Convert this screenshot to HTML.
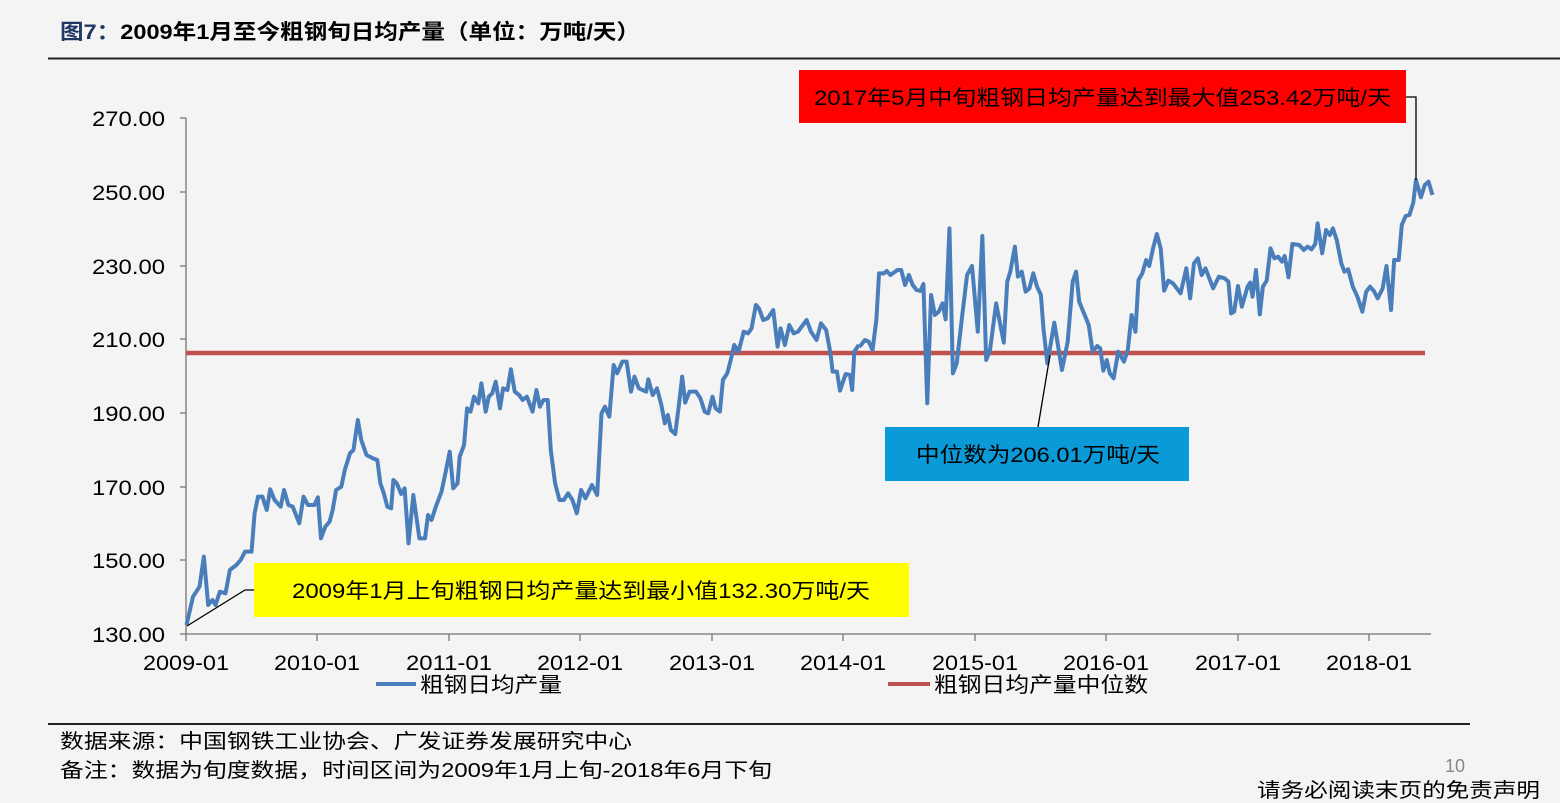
<!DOCTYPE html>
<html><head><meta charset="utf-8"><style>
body{margin:0;background:#f4f4f4;}
svg{display:block;font-family:"Liberation Sans","Noto Sans CJK SC",sans-serif;}
</style></head><body>
<svg width="1560" height="803" viewBox="0 0 1560 803" xmlns="http://www.w3.org/2000/svg">
<rect width="1560" height="803" fill="#f4f4f4"/>
<text x="60" y="39" font-size="21" font-weight="bold" textLength="580" lengthAdjust="spacingAndGlyphs"><tspan fill="#1f3864">图7：</tspan><tspan fill="#000">2009年1月至今粗钢旬日均产量（单位：万吨/天）</tspan></text>
<line x1="48" y1="58.5" x2="1560" y2="58.5" stroke="#222" stroke-width="2"/>
<g stroke="#868686" stroke-width="1.5">
<line x1="186" y1="118" x2="186" y2="634"/>
<line x1="186" y1="634" x2="1431" y2="634"/>
<line x1="180" y1="118" x2="186" y2="118"/><line x1="180" y1="192" x2="186" y2="192"/><line x1="180" y1="266" x2="186" y2="266"/><line x1="180" y1="339" x2="186" y2="339"/><line x1="180" y1="413" x2="186" y2="413"/><line x1="180" y1="487" x2="186" y2="487"/><line x1="180" y1="560" x2="186" y2="560"/><line x1="180" y1="634" x2="186" y2="634"/>
<line x1="186" y1="634" x2="186" y2="641"/><line x1="317" y1="634" x2="317" y2="641"/><line x1="449" y1="634" x2="449" y2="641"/><line x1="580" y1="634" x2="580" y2="641"/><line x1="712" y1="634" x2="712" y2="641"/><line x1="843" y1="634" x2="843" y2="641"/><line x1="975" y1="634" x2="975" y2="641"/><line x1="1106" y1="634" x2="1106" y2="641"/><line x1="1238" y1="634" x2="1238" y2="641"/><line x1="1369" y1="634" x2="1369" y2="641"/>
</g>
<g font-size="21" fill="#000">
<text x="92" y="126" textLength="73" lengthAdjust="spacingAndGlyphs">270.00</text><text x="92" y="200" textLength="73" lengthAdjust="spacingAndGlyphs">250.00</text><text x="92" y="274" textLength="73" lengthAdjust="spacingAndGlyphs">230.00</text><text x="92" y="347" textLength="73" lengthAdjust="spacingAndGlyphs">210.00</text><text x="92" y="421" textLength="73" lengthAdjust="spacingAndGlyphs">190.00</text><text x="92" y="495" textLength="73" lengthAdjust="spacingAndGlyphs">170.00</text><text x="92" y="568" textLength="73" lengthAdjust="spacingAndGlyphs">150.00</text><text x="92" y="642" textLength="73" lengthAdjust="spacingAndGlyphs">130.00</text>
</g>
<g font-size="21" fill="#000">
<text x="143" y="670" textLength="86" lengthAdjust="spacingAndGlyphs">2009-01</text><text x="274" y="670" textLength="86" lengthAdjust="spacingAndGlyphs">2010-01</text><text x="406" y="670" textLength="86" lengthAdjust="spacingAndGlyphs">2011-01</text><text x="537" y="670" textLength="86" lengthAdjust="spacingAndGlyphs">2012-01</text><text x="669" y="670" textLength="86" lengthAdjust="spacingAndGlyphs">2013-01</text><text x="800" y="670" textLength="86" lengthAdjust="spacingAndGlyphs">2014-01</text><text x="932" y="670" textLength="86" lengthAdjust="spacingAndGlyphs">2015-01</text><text x="1063" y="670" textLength="86" lengthAdjust="spacingAndGlyphs">2016-01</text><text x="1195" y="670" textLength="86" lengthAdjust="spacingAndGlyphs">2017-01</text><text x="1326" y="670" textLength="86" lengthAdjust="spacingAndGlyphs">2018-01</text>
</g>
<line x1="186" y1="353" x2="1425" y2="353" stroke="#c0504d" stroke-width="4.5"/>
<g fill="none" stroke="#4a7ebb" stroke-width="4" stroke-linejoin="round">
<g transform="translate(180,220) scale(0.43365,0.33333)">
<polyline vector-effect="non-scaling-stroke" points="15,1215 30,1130 45,1100 55,1010 65,1155 75,1140 82,1155 92,1115 105,1120 115,1050 130,1035 140,1020 150,995 165,995 172,880 180,830 190,830 200,870 208,808 218,840 232,860 240,810 250,855 260,860 275,910 285,830 295,855 310,855 318,832 325,955 335,920 345,905 352,870 360,810 372,800 380,750 392,700 400,690 410,600 418,660 430,705 445,715 455,720 462,790 470,820 478,860 487,865 492,780 500,790 510,822 518,805 527,970 538,825 552,955 565,955 572,885 580,900 590,860 603,815 612,760 622,695 630,805 640,790 645,710 655,675 662,565 670,575 678,530 688,550 695,490 705,575 712,530 720,520 728,485 738,565 745,505 755,510 763,448 772,515 782,525 790,540 800,530 813,575 822,510 830,560 838,540 848,540 855,690 865,790 875,840 885,840 895,820 905,840 915,880 925,810 935,835 950,795 962,825 972,580 980,560 990,590 1000,435 1008,460 1020,425 1030,425 1040,515 1048,470 1058,505 1075,515 1080,478 1090,525 1100,505 1110,555 1118,610 1125,585 1132,630 1142,642 1150,560 1158,470 1165,548 1175,515 1190,515 1200,535 1210,575 1218,580 1228,530 1235,565 1245,575 1252,480 1262,460 1270,420 1278,375 1288,395 1300,335 1310,340 1318,325 1328,255 1335,265 1345,300 1355,295 1368,270 1378,380 1385,325 1395,375 1405,315 1415,340 1425,335 1445,300 1455,335 1468,360 1478,310 1490,330 1500,400 1505,455 1515,455 1522,512 1535,462 1545,465 1550,510 1555,395 1565,375"/>
</g>
<g transform="translate(840,160) scale(0.38269,0.33333)">
<polyline vector-effect="non-scaling-stroke" points="50,560 55,555 65,540 75,545 85,570 95,480 102,340 115,340 122,333 132,345 150,330 160,330 170,375 180,345 190,375 200,390 210,393 218,372 228,730 238,405 248,465 258,455 268,430 276,478 286,205 295,640 305,610 318,480 332,345 345,318 360,515 372,228 382,600 392,570 408,430 428,548 437,365 445,335 457,260 465,350 475,335 485,395 495,385 505,340 515,380 525,405 532,510 542,610 560,488 580,630 595,545 608,365 617,335 625,425 650,495 660,575 672,558 680,565 688,632 697,600 705,640 715,655 727,575 742,605 752,570 762,465 772,515 780,360 790,340 800,300 808,318 818,265 828,222 838,265 847,392 858,362 870,370 890,400 905,325 915,415 925,310 935,295 945,345 955,325 975,385 990,350 1005,355 1015,365 1022,460 1030,455 1040,378 1050,440 1065,380 1072,368 1078,410 1087,330 1097,463 1105,380 1115,362 1125,265 1135,295 1145,290 1155,305 1162,288 1172,352 1182,252 1200,255 1212,270 1222,260 1232,268 1242,252 1248,190 1260,280 1270,210 1280,225 1288,205 1298,240 1310,310 1318,335 1328,328 1340,380 1352,410 1365,455 1375,395 1385,380 1395,393 1405,415 1418,385 1428,318 1440,450 1448,300 1460,300 1468,195 1478,168 1488,165 1498,128 1505,60 1518,112 1528,75 1538,65 1548,105"/>
</g>
</g>
<g stroke="#000" stroke-width="1.3" fill="none">
<polyline points="1406,97 1416,97 1416,180"/>
<line x1="1038" y1="427" x2="1050" y2="355"/>
<polyline points="187,626 245,590 254,590"/>
</g>
<rect x="799" y="70" width="607" height="53" fill="#ff0000"/>
<text x="814" y="105" font-size="21" fill="#000" textLength="577" lengthAdjust="spacingAndGlyphs">2017年5月中旬粗钢日均产量达到最大值253.42万吨/天</text>
<rect x="885" y="427" width="304" height="54" fill="#0a9ad8"/>
<text x="916" y="462" font-size="21" fill="#000" textLength="244" lengthAdjust="spacingAndGlyphs">中位数为206.01万吨/天</text>
<rect x="254" y="563" width="655" height="54" fill="#ffff00"/>
<text x="292" y="598" font-size="21" fill="#000" textLength="578" lengthAdjust="spacingAndGlyphs">2009年1月上旬粗钢日均产量达到最小值132.30万吨/天</text>
<line x1="376" y1="684" x2="416" y2="684" stroke="#4a7ebb" stroke-width="4"/>
<text x="420" y="692" font-size="21" textLength="142" lengthAdjust="spacingAndGlyphs">粗钢日均产量</text>
<line x1="888" y1="684" x2="930" y2="684" stroke="#c0504d" stroke-width="4"/>
<text x="934" y="692" font-size="21" textLength="214" lengthAdjust="spacingAndGlyphs">粗钢日均产量中位数</text>
<line x1="48" y1="724" x2="1470" y2="724" stroke="#222" stroke-width="2"/>
<text x="60" y="748" font-size="20" textLength="572" lengthAdjust="spacingAndGlyphs">数据来源：中国钢铁工业协会、广发证券发展研究中心</text>
<text x="60" y="777" font-size="20" textLength="712" lengthAdjust="spacingAndGlyphs">备注：数据为旬度数据，时间区间为2009年1月上旬-2018年6月下旬</text>
<text x="1445" y="772" font-size="18" fill="#888">10</text>
<text x="1257" y="797" font-size="20" textLength="283" lengthAdjust="spacingAndGlyphs">请务必阅读末页的免责声明</text>
</svg>
</body></html>
